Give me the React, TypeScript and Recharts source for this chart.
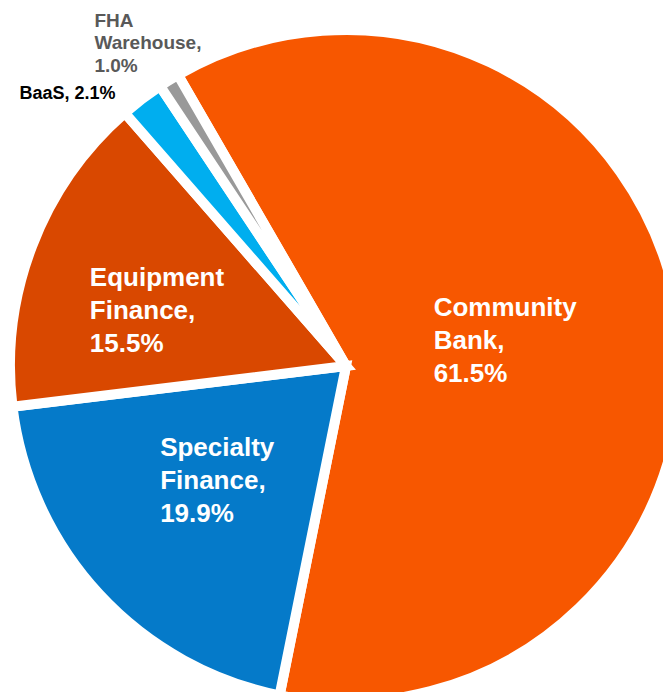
import { PieChart, Pie, Cell } from 'recharts'

const SEGMENTS = ['Community Bank', 'Specialty Finance', 'Equipment Finance', 'BaaS', 'FHA Warehouse']
const SHARES = [61.5, 19.9, 15.5, 2.1, 1.0]
const COLORS = ['#f75700', '#057ac9', '#d94800', '#00aeef', '#999999']
// how each label is broken over lines
const LABEL_LINES = [
  ['Community', 'Bank,'],
  ['Specialty', 'Finance,'],
  ['Equipment', 'Finance,'],
  ['BaaS,'],
  ['FHA', 'Warehouse,'],
]
// label distance from centre as a share of the radius, plus a small hand nudge
const LABEL_RADIUS = [0.48, 0.51, 0.58, 1.066, 1.13]
const LABEL_NUDGE = [[0, 0], [-3, -2], [-7, 14], [-13, 12], [2, -1]]

const FONT = "'Liberation Sans', Arial, sans-serif"
const RAD = Math.PI / 180

const W = 663
const H = 692

let ctx: CanvasRenderingContext2D | null = null
function textWidth(s: string, size: number) {
  if (!ctx) ctx = document.createElement('canvas').getContext('2d')
  if (!ctx) return s.length * size * 0.6
  ctx.font = `bold ${size}px ${FONT}`
  return ctx.measureText(s).width
}

const chartData = SEGMENTS.map((name, i) => ({ name, value: SHARES[i] }))

function renderLabel(props: any) {
  const { cx, cy, midAngle, outerRadius, index } = props
  const lines = [...LABEL_LINES[index]]
  const pct = `${SHARES[index].toFixed(1)}%`
  const r = outerRadius * LABEL_RADIUS[index]
  const px = cx + r * Math.cos(-midAngle * RAD) + LABEL_NUDGE[index][0]
  const py = cy + r * Math.sin(-midAngle * RAD) + LABEL_NUDGE[index][1]

  if (lines.length === 1) {
    return (
      <text key={`l${index}`} x={px} y={py} fill="#000000" fontSize={18} fontWeight="bold" fontFamily={FONT} textAnchor="end" dominantBaseline="central">
        {`${lines[0]} ${pct}`}
      </text>
    )
  }

  lines.push(pct)
  const inside = SHARES[index] > 5
  const size = inside ? 26 : 19
  const lh = inside ? 33 : 22.5
  const fill = inside ? '#ffffff' : '#595959'
  const maxW = Math.max(...lines.map(l => textWidth(l, size)))
  const x0 = px - maxW / 2
  const y0 = py - ((lines.length - 1) * lh) / 2
  return (
    <text key={`l${index}`} x={x0} y={y0} fill={fill} fontSize={size} fontWeight="bold" fontFamily={FONT} dominantBaseline="central">
      {lines.map((l, k) => (
        <tspan key={k} x={x0} y={y0 + k * lh}>{l}</tspan>
      ))}
    </text>
  )
}

export default function App() {
  return (
    <div style={{ position: 'absolute', left: 0, top: 0, width: W, height: H, background: '#ffffff' }}>
      <PieChart width={W} height={H} margin={{ top: 0, right: 0, bottom: 0, left: 0 }}>
        <Pie
          data={chartData}
          dataKey="value"
          nameKey="name"
          cx={346}
          cy={366}
          outerRadius={336}
          startAngle={120}
          endAngle={-240}
          stroke="#ffffff"
          strokeWidth={10}
          labelLine={false}
          label={renderLabel}
          isAnimationActive={false}
        >
          {chartData.map((d, i) => (
            <Cell key={d.name} fill={COLORS[i]} stroke="#ffffff" />
          ))}
        </Pie>
      </PieChart>
    </div>
  )
}
